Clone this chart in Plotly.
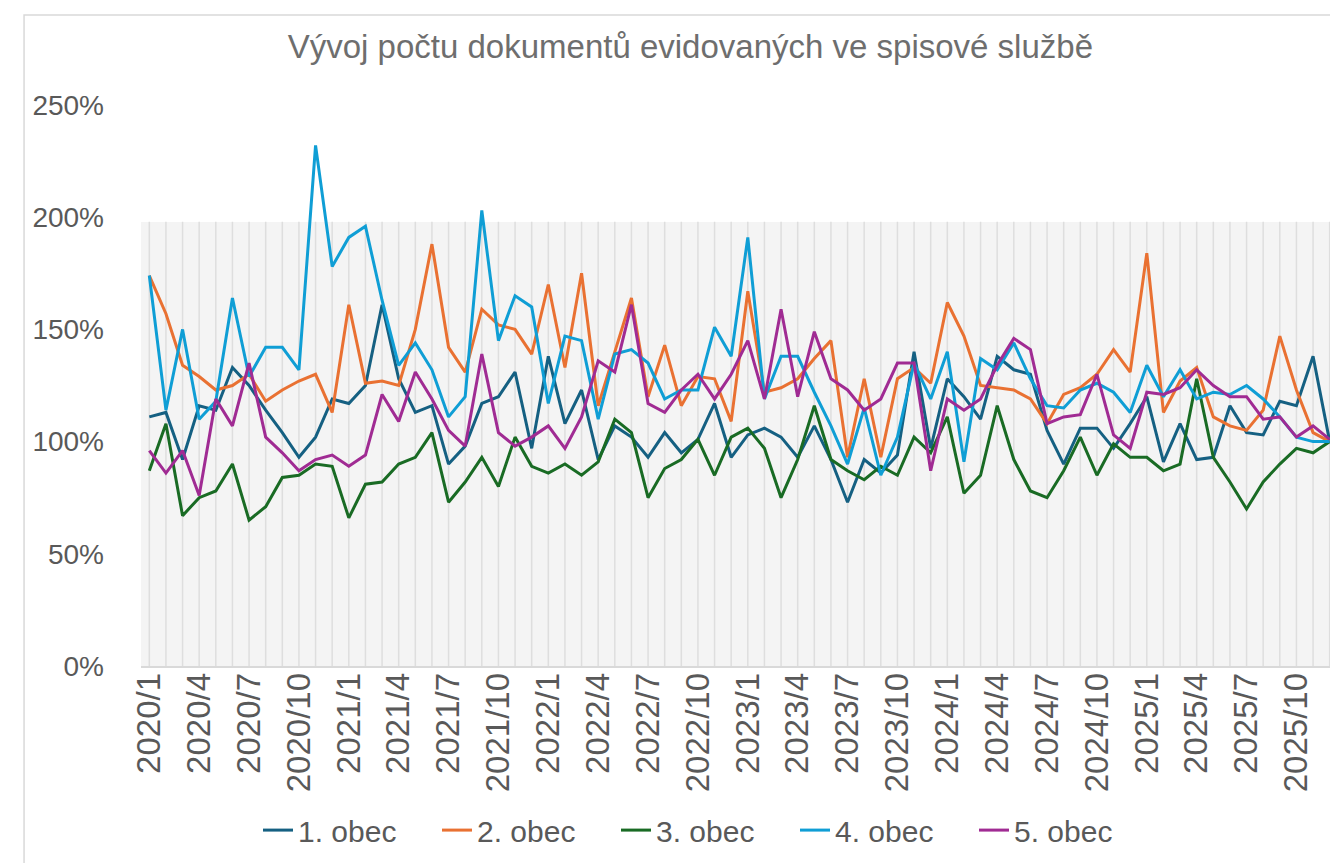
import plotly.graph_objects as go

months = [f"{y}/{m}" for y in range(2020, 2026) for m in range(1, 13)]
tick_idx = list(range(0, 72, 3))
tick_labels = [months[i] for i in tick_idx]

obec1 = [111, 113, 92, 116, 114, 133, 125, 114, 104, 93, 102, 119,
         117, 125, 161, 128, 113, 116, 90, 98, 117, 120, 131, 97,
         138, 108, 123, 92, 107, 102, 93, 104, 95, 101, 117, 93,
         103, 106, 102, 93, 107, 92, 73, 92, 86, 94, 140, 97,
         128, 120, 110, 138, 132, 130, 105, 90, 106, 106, 97, 108,
         120, 91, 108, 92, 93, 116, 104, 103, 118, 116, 138, 100]
obec2 = [174, 157, 134, 129, 123, 125, 130, 118, 123, 127, 130, 113,
         161, 126, 127, 125, 150, 188, 142, 131, 159, 152, 150, 139,
         170, 133, 175, 116, 140, 164, 120, 143, 116, 129, 128, 109,
         167, 122, 124, 128, 137, 145, 93, 128, 93, 128, 133, 126,
         162, 147, 125, 124, 123, 119, 108, 121, 124, 130, 141, 131,
         184, 113, 127, 133, 111, 107, 105, 114, 147, 123, 104, 100]
obec3 = [87, 108, 67, 75, 78, 90, 65, 71, 84, 85, 90, 89,
         66, 81, 82, 90, 93, 104, 73, 82, 93, 80, 102, 89,
         86, 90, 85, 91, 110, 104, 75, 88, 92, 101, 85, 102,
         106, 97, 75, 92, 116, 92, 87, 83, 89, 85, 102, 95,
         111, 77, 85, 116, 92, 78, 75, 87, 102, 85, 99, 93,
         93, 87, 90, 128, 93, 82, 70, 82, 90, 97, 95, 100]
obec4 = [174, 114, 150, 110, 118, 164, 129, 142, 142, 132, 232, 178,
         191, 196, 163, 134, 144, 132, 111, 120, 203, 145, 165, 160,
         117, 147, 145, 110, 139, 141, 135, 119, 123, 123, 151, 138,
         191, 119, 138, 138, 122, 107, 90, 115, 85, 102, 135, 119,
         140, 91, 137, 132, 144, 128, 116, 115, 123, 126, 122, 113,
         134, 120, 132, 119, 122, 121, 125, 119, 111, 102, 100, 100]
obec5 = [96, 86, 96, 76, 119, 107, 135, 102, 95, 87, 92, 94,
         89, 94, 121, 109, 131, 119, 105, 98, 139, 104, 98, 102,
         107, 97, 111, 136, 131, 161, 117, 113, 123, 130, 119, 130,
         145, 119, 159, 120, 149, 128, 123, 114, 119, 135, 135, 87,
         119, 114, 119, 134, 146, 141, 108, 111, 112, 130, 103, 97,
         122, 121, 124, 132, 125, 120, 120, 110, 111, 102, 107, 101]

series_names = ["1. obec", "2. obec", "3. obec", "4. obec", "5. obec"]
series_values = [obec1, obec2, obec3, obec4, obec5]
series_colors = ["#156082", "#E97132", "#196B24", "#0F9ED5", "#A02B93"]

backdrop_level = 1.98  # light grey background columns

FONT = "Liberation Sans, Arial, sans-serif"
TXT = "#595959"

fig = go.Figure()
xs = list(range(len(months)))

# background columns
fig.add_trace(go.Bar(x=xs, y=[backdrop_level] * len(xs), width=1.0,
                     marker=dict(color="#f4f4f4", line=dict(width=0)),
                     showlegend=False, hoverinfo="skip"))
# thin drop lines at each category
dx, dy = [], []
for i in xs:
    dx += [i, i, None]
    dy += [0, backdrop_level, None]
fig.add_trace(go.Scatter(x=dx, y=dy, mode="lines",
                         line=dict(color="#dedede", width=1.5),
                         showlegend=False, hoverinfo="skip"))

for name, vals, col in zip(series_names, series_values, series_colors):
    fig.add_trace(go.Scatter(x=xs, y=[v / 100 for v in vals], mode="lines",
                             name=name, line=dict(color=col, width=3)))

fig.update_layout(
    width=1338, height=863,
    paper_bgcolor="white", plot_bgcolor="white",
    margin=dict(l=133, r=8, t=97, b=205),
    font=dict(family=FONT, color=TXT, size=28),
    title=dict(text="Vývoj počtu dokumentů evidovaných ve spisové službě",
               x=0.510, xanchor="center", y=1 - 38 / 863, yanchor="middle",
               font=dict(family=FONT, size=33, color="#6e6e6e")),
    showlegend=True,
    legend=dict(orientation="h", x=(250 - 133) / 1197, xanchor="left",
                y=-0.3565 + 0.064, yanchor="middle",
                font=dict(size=30, color=TXT),
                bgcolor="rgba(0,0,0,0)", itemwidth=30, tracegroupgap=0,
                entrywidth=134, entrywidthmode="pixels"),
    bargap=0,
    shapes=[dict(type="rect", xref="paper", yref="paper",
                 x0=-0.0977, x1=1.0033, y0=-0.3565, y1=1.1604,
                 line=dict(color="#d9d9d9", width=1.5), fillcolor="rgba(0,0,0,0)",
                 layer="below")],
)
fig.update_xaxes(range=[-0.5, 71.5], tickmode="array", tickvals=tick_idx,
                 ticktext=tick_labels, tickangle=-90, showgrid=False,
                 showline=True, linecolor="#d9d9d9", linewidth=1.5,
                 ticks="", tickfont=dict(size=33, color=TXT),
                 ticklabelstandoff=-8, zeroline=False)
fig.update_yaxes(range=[0, 2.5], dtick=0.5, tickformat=".0%", showgrid=False,
                 zeroline=False, showline=False, ticks="",
                 tickfont=dict(size=28, color=TXT), ticklabelstandoff=36)

fig.write_html("out.html")
